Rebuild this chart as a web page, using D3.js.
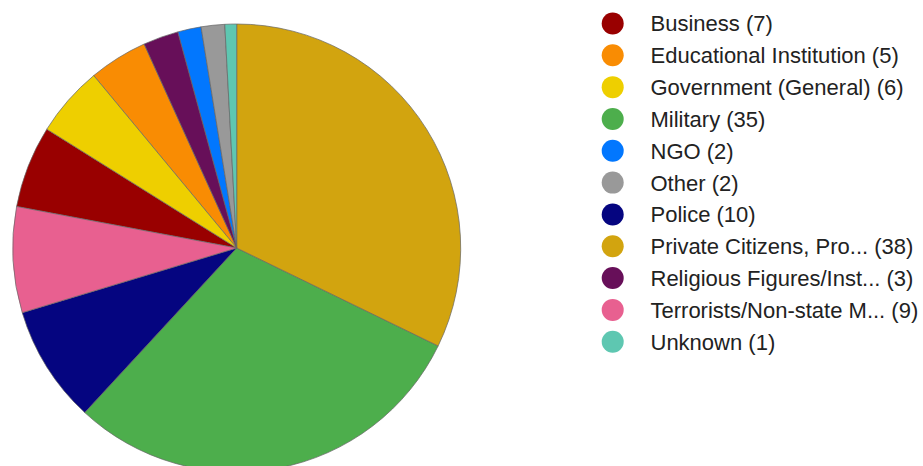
<!DOCTYPE html>
<html><head><meta charset="utf-8">
<script src="https://cdn.jsdelivr.net/npm/d3@7"></script>
<style>body{margin:0;background:#fff;}svg{display:block;}</style>
</head><body>
<svg id="c" width="923" height="466"></svg>
<script>
const categories = ["Business","Educational Institution","Government (General)","Military","NGO","Other","Police","Private Citizens, Pro...","Religious Figures/Inst...","Terrorists/Non-state M...","Unknown"];
const values = [7,5,6,35,2,2,10,38,3,9,1];
const colors = ["#990000","#f98c03","#eecf00","#4dae4c","#0277fe","#999999","#050580","#d2a40f","#670f59","#e86090","#5ec7b1"];

const data = categories.map((c,i)=>({name:c,value:values[i],color:colors[i],idx:i}));
const svg = d3.select("#c");
const cx = 236.7, cy = 248, r = 224;
const pie = d3.pie().value(d=>d.value).sort((a,b)=> b.value-a.value || d3.ascending(a.name,b.name));
const arc = d3.arc().innerRadius(0).outerRadius(r);
svg.append("g").attr("transform",`translate(${cx},${cy})`)
  .selectAll("path").data(pie(data)).join("path")
  .attr("d",arc).attr("fill",d=>d.data.color)
  .attr("stroke","#666").attr("stroke-width",0.7);

const y = d3.scalePoint().domain(categories).range([23.5, 341.7]);
const lg = svg.append("g");
const rows = lg.selectAll("g").data(data).join("g")
  .attr("transform",d=>`translate(0,${y(d.name)})`);
rows.append("circle").attr("cx",612.7).attr("cy",0).attr("r",11).attr("fill",d=>d.color);
rows.append("text").attr("x",650.5).attr("y",0).attr("dy","0.36em")
  .attr("font-family","Liberation Sans, Arial, sans-serif").attr("font-size",22)
  .attr("fill","#222").text(d=>`${d.name} (${d.value})`);
</script>
</body></html>
